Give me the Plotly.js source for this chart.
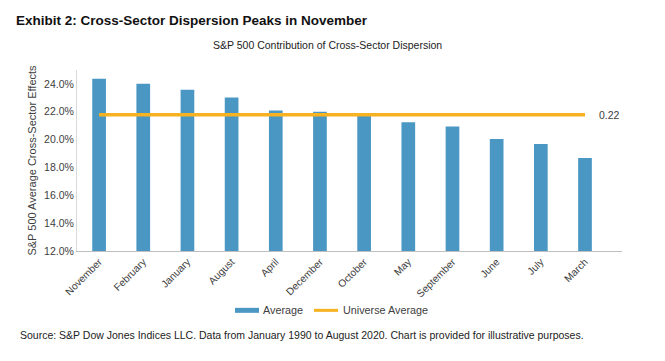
<!DOCTYPE html>
<html>
<head>
<meta charset="utf-8">
<script src="https://cdn.plot.ly/plotly-3.0.1.min.js"></script>
<style>html,body{margin:0;padding:0;background:#fff;}#chart{width:665px;height:361px;}</style>
</head>
<body>
<div id="chart"></div>
<script>
var months = ["November","February","January","August","April","December","October","May","September","June","July","March"];
var averageValues = [0.2438,0.2402,0.2359,0.2302,0.2209,0.2201,0.2171,0.2125,0.2094,0.2004,0.1968,0.1868];
var universeAverage = 0.2178;
var universeLabel = "0.22";
var yTicks = [0.12,0.14,0.16,0.18,0.20,0.22,0.24];
var seriesNames = ["Average", "Universe Average"];

var FONT = "Liberation Sans, Arial, sans-serif";
var BAR_COLOR = "#4b97c4", LINE_COLOR = "#f6b221";
var L = 77, R = 43, T = 70, B = 109.5, W = 665, H = 361;
var PW = W - L - R, PH = H - T - B;
function px(x) { return (x - L) / PW; }
function py(y) { return (H - B - y) / PH; }

var traces = [
  {
    type: "bar", name: seriesNames[0], x: months, y: averageValues,
    marker: {color: BAR_COLOR}, hoverinfo: "x+y", showlegend: false
  },
  {
    type: "scatter", mode: "lines", name: seriesNames[1],
    x: [months[0], months[months.length-1]], y: [universeAverage, universeAverage],
    line: {color: LINE_COLOR, width: 3.5}, showlegend: false,
    cliponaxis: false
  }
];
var layout = {
  width: W, height: H,
  margin: {l: L, r: R, t: T, b: B},
  paper_bgcolor: "#fff", plot_bgcolor: "#fff",
  font: {family: FONT, color: "#404040", size: 10.5},
  showlegend: false,
  bargap: 0.69,
  xaxis: {
    type: "category", tickangle: -45, showgrid: false, zeroline: false, automargin: false,
    showline: true, linecolor: "#bfbfbf", linewidth: 1, ticks: "",
    tickfont: {family: FONT, size: 10.2, color: "#404040"}
  },
  yaxis: {
    range: [0.12, 0.25], tickvals: yTicks, tickformat: ".1%", automargin: false,
    showgrid: false, zeroline: false, showline: true, linecolor: "#d9d9d9", linewidth: 1,
    ticks: "", ticklen: 0, tickfont: {family: FONT, size: 10.5, color: "#404040"},
    title: {text: "S&P 500 Average Cross-Sector Effects", font: {family: FONT, size: 11, color: "#404040"}, standoff: 5}
  },
  shapes: [
    {type: "rect", xref: "paper", yref: "paper", x0: px(235), x1: px(259), y0: py(313.5), y1: py(308.5),
     fillcolor: BAR_COLOR, line: {width: 0}},
    {type: "line", xref: "paper", yref: "paper", x0: px(314), x1: px(338), y0: py(311), y1: py(311),
     line: {color: LINE_COLOR, width: 3}}
  ],
  annotations: [
    {text: seriesNames[0], xref: "paper", yref: "paper", x: px(261), y: py(311), xanchor: "left", yanchor: "middle",
     showarrow: false, font: {family: FONT, size: 10.8, color: "#404040"}},
    {text: seriesNames[1], xref: "paper", yref: "paper", x: px(341), y: py(311), xanchor: "left", yanchor: "middle",
     showarrow: false, font: {family: FONT, size: 10.8, color: "#404040"}},
    {text: universeLabel, xref: "x", yref: "y", x: months[months.length-1], y: universeAverage,
     xanchor: "left", yanchor: "middle", xshift: 12, showarrow: false,
     font: {family: FONT, size: 10.5, color: "#404040"}},
    {text: "<b>Exhibit 2: Cross-Sector Dispersion Peaks in November</b>", xref: "paper", yref: "paper",
     x: px(14), y: py(20), xanchor: "left", yanchor: "middle", showarrow: false,
     font: {family: FONT, size: 13.5, color: "#111"}},
    {text: "S&P 500 Contribution of Cross-Sector Dispersion", xref: "paper", yref: "paper",
     x: px(327), y: py(45), xanchor: "center", yanchor: "middle", showarrow: false,
     font: {family: FONT, size: 10.5, color: "#222"}},
    {text: "Source: S&P Dow Jones Indices LLC. Data from January 1990 to August 2020. Chart is provided for illustrative purposes.",
     xref: "paper", yref: "paper", x: px(18), y: py(336), xanchor: "left", yanchor: "middle",
     showarrow: false, font: {family: FONT, size: 10.5, color: "#222"}}
  ]
};
Plotly.newPlot("chart", traces, layout, {displayModeBar: false, staticPlot: true});
</script>
</body>
</html>
